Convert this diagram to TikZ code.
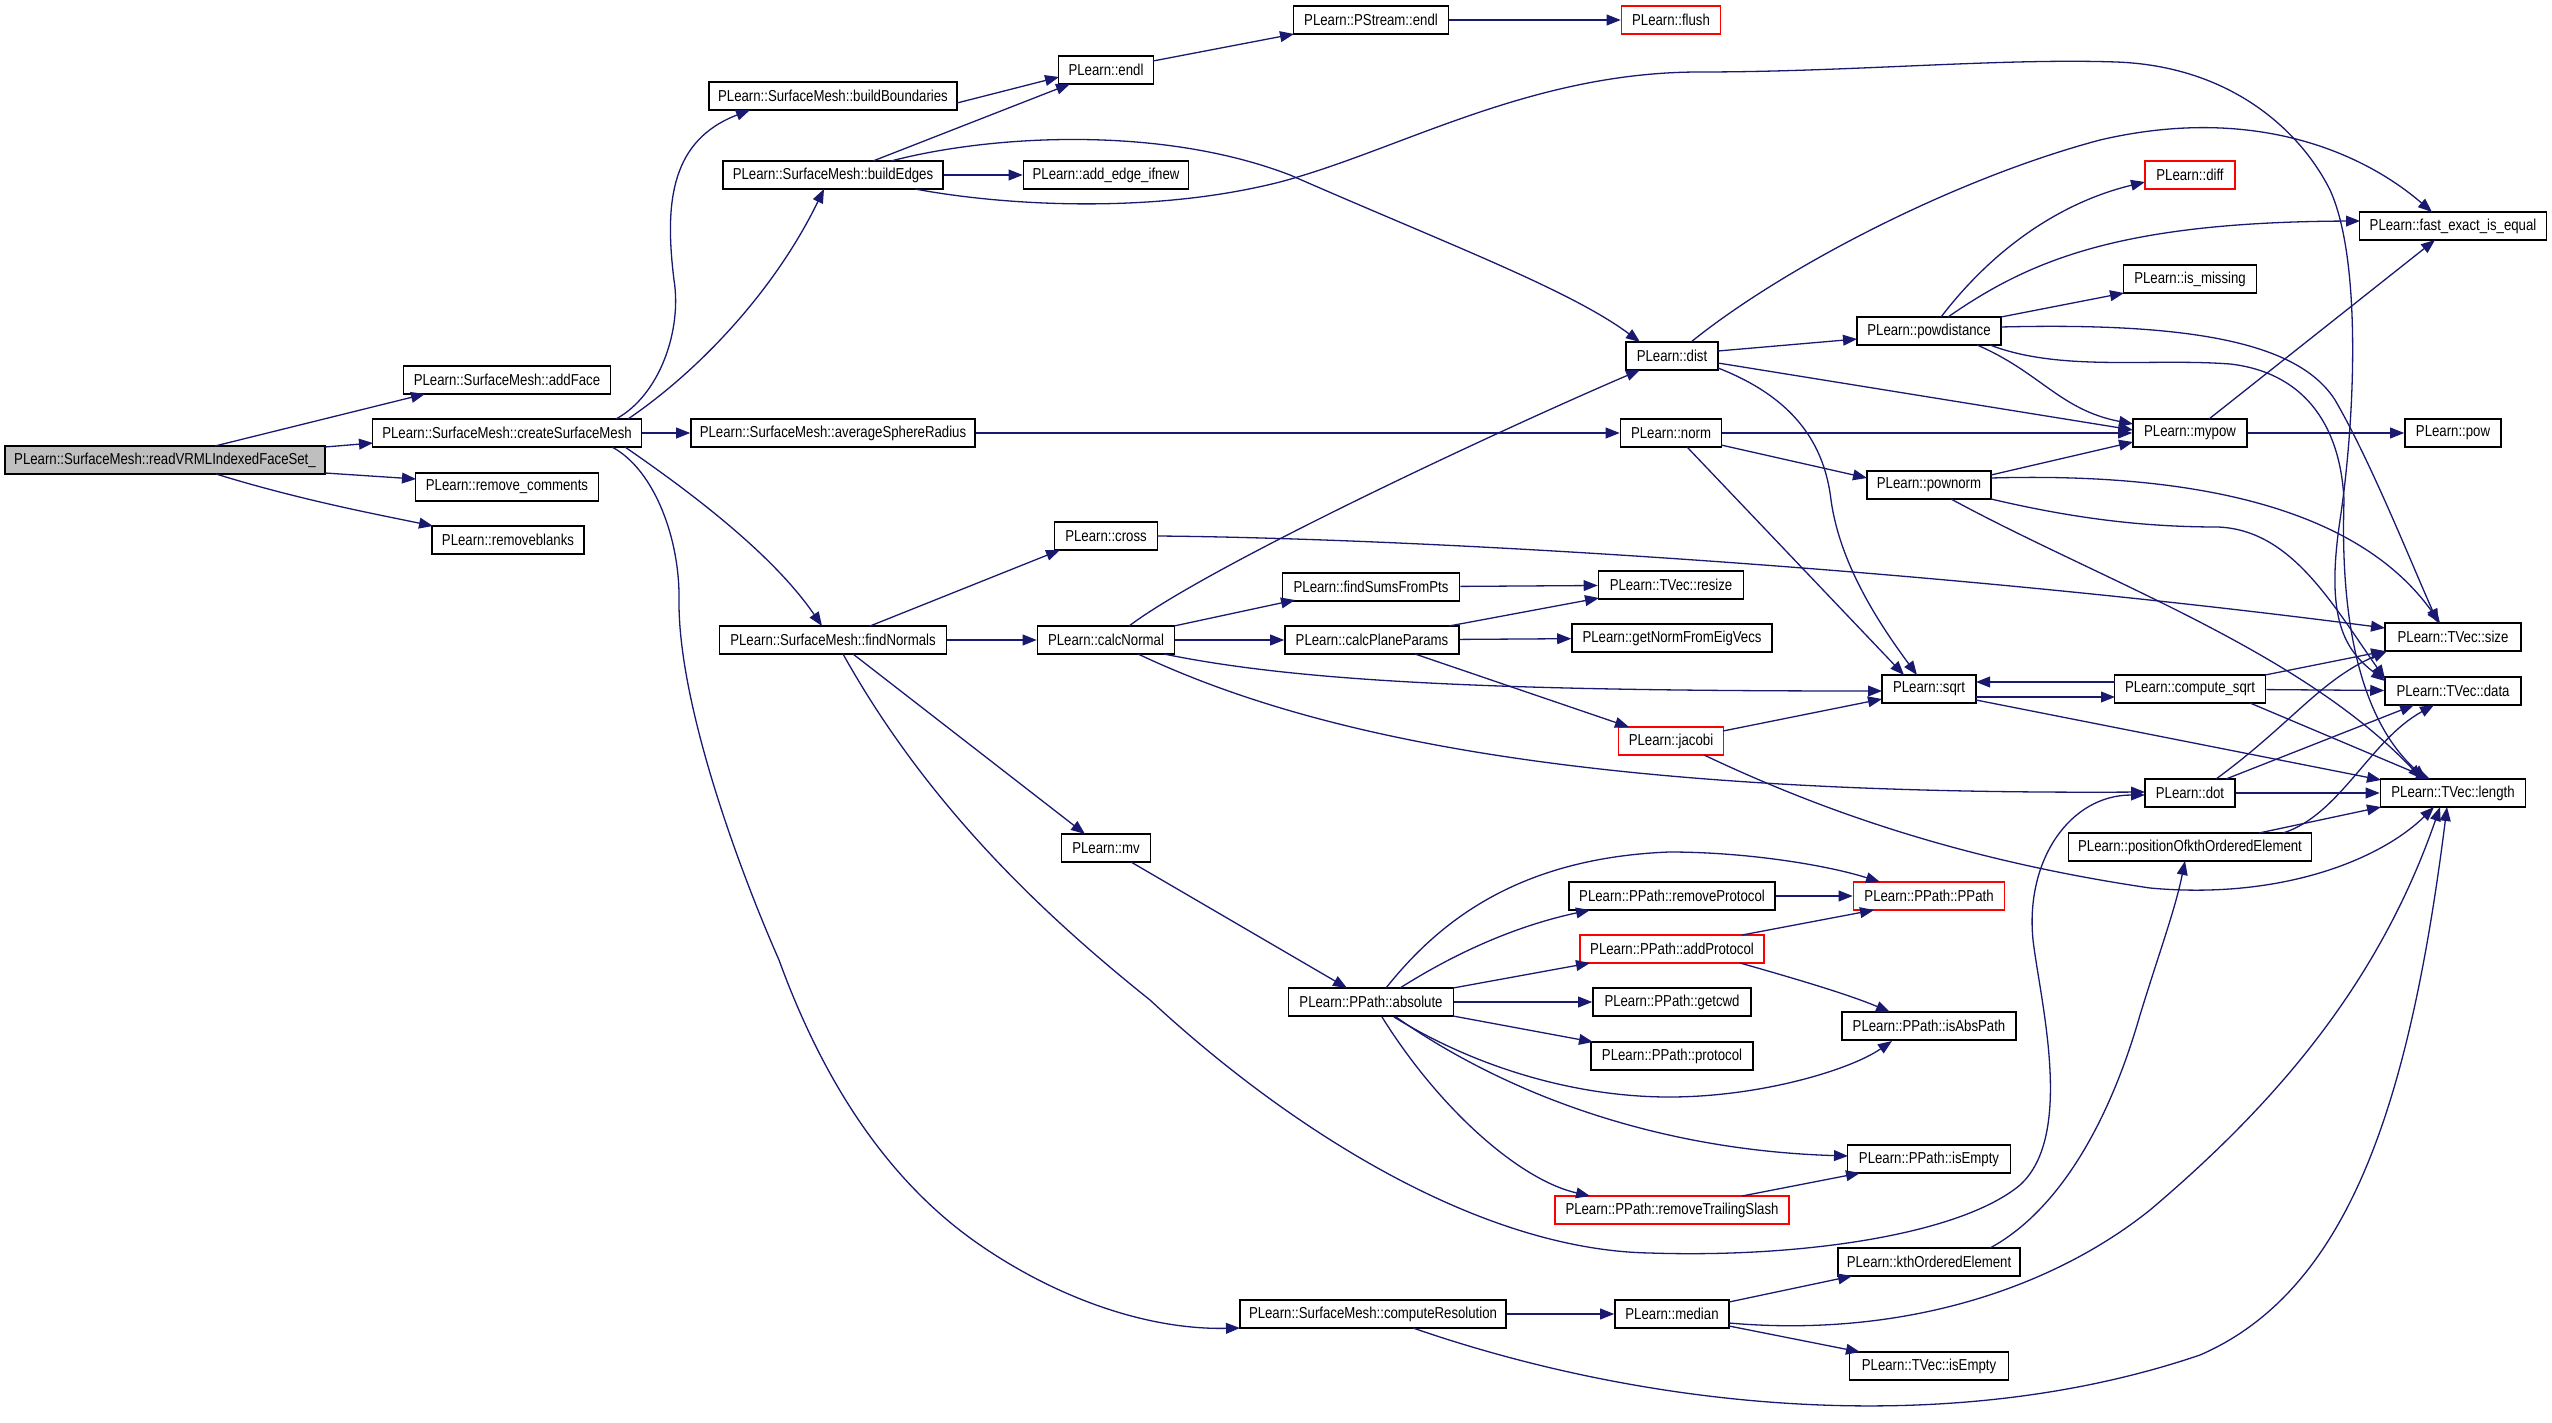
\documentclass[tikz,border=0pt]{standalone}
\usepackage{fontspec}
\usepackage{graphicx}
\setmainfont{Liberation Sans}
\usetikzlibrary{arrows.meta,calc}
\definecolor{edgec}{HTML}{191970}
\definecolor{rootfill}{HTML}{BFBFBF}
\newcommand\nlab[1]{\scalebox{1}[1.2]{#1}}
\begin{document}
\begin{tikzpicture}[x=0.5pt,y=-0.5pt,
  box/.style={draw=black, line width=0.8pt, fill=white, rectangle, inner sep=0pt, minimum height=14pt, font=\fontsize{6.6}{8}\selectfont},
  redbox/.style={box, draw=red},
  bw/.style={minimum width=#1*0.5pt},
  conn/.style={draw=edgec, line width=0.65pt, -{Triangle[length=7pt,width=5.4pt]}}]
\useasboundingbox (0,0) rectangle (2552,1423);
\fill[white] (0,0) rectangle (2552,1423);
% nodes
\node[box,bw=320,fill=rootfill] (rv) at (165,460) {\nlab{PLearn::SurfaceMesh::readVRMLIndexedFaceSet\_}};
\node[box,bw=207] (addface) at (507,380) {\nlab{PLearn::SurfaceMesh::addFace}};
\node[box,bw=269] (cse) at (507,433) {\nlab{PLearn::SurfaceMesh::createSurfaceMesh}};
\node[box,bw=183] (remc) at (507,487) {\nlab{PLearn::remove\_comments}};
\node[box,bw=152] (remb) at (508,540) {\nlab{PLearn::removeblanks}};
\node[box,bw=248] (bb) at (833,96) {\nlab{PLearn::SurfaceMesh::buildBoundaries}};
\node[box,bw=220] (be) at (833,175) {\nlab{PLearn::SurfaceMesh::buildEdges}};
\node[box,bw=284] (asr) at (833,433) {\nlab{PLearn::SurfaceMesh::averageSphereRadius}};
\node[box,bw=227] (fn) at (833,640) {\nlab{PLearn::SurfaceMesh::findNormals}};
\node[box,bw=266] (cr) at (1373,1314) {\nlab{PLearn::SurfaceMesh::computeResolution}};
\node[box,bw=95] (endl) at (1106,70) {\nlab{PLearn::endl}};
\node[box,bw=165] (aei) at (1106,175) {\nlab{PLearn::add\_edge\_ifnew}};
\node[box,bw=103] (cross) at (1106,536) {\nlab{PLearn::cross}};
\node[box,bw=137] (cn) at (1106,640) {\nlab{PLearn::calcNormal}};
\node[box,bw=89] (mv) at (1106,848) {\nlab{PLearn::mv}};
\node[box,bw=155] (pse) at (1371,20) {\nlab{PLearn::PStream::endl}};
\node[box,bw=177] (fsp) at (1371,587) {\nlab{PLearn::findSumsFromPts}};
\node[box,bw=174] (cpp) at (1372,640) {\nlab{PLearn::calcPlaneParams}};
\node[box,bw=165] (abs) at (1371,1002) {\nlab{PLearn::PPath::absolute}};
\node[redbox,bw=99] (flush) at (1671,20) {\nlab{PLearn::flush}};
\node[box,bw=92] (dist) at (1672,356) {\nlab{PLearn::dist}};
\node[box,bw=101] (norm) at (1671,433) {\nlab{PLearn::norm}};
\node[box,bw=145] (resize) at (1671,585) {\nlab{PLearn::TVec::resize}};
\node[box,bw=200] (gnfe) at (1672,638) {\nlab{PLearn::getNormFromEigVecs}};
\node[redbox,bw=105] (jacobi) at (1671,741) {\nlab{PLearn::jacobi}};
\node[box,bw=206] (rmp) at (1672,896) {\nlab{PLearn::PPath::removeProtocol}};
\node[redbox,bw=184] (addp) at (1672,949) {\nlab{PLearn::PPath::addProtocol}};
\node[box,bw=158] (getcwd) at (1672,1002) {\nlab{PLearn::PPath::getcwd}};
\node[box,bw=162] (protocol) at (1672,1056) {\nlab{PLearn::PPath::protocol}};
\node[redbox,bw=234] (rts) at (1672,1210) {\nlab{PLearn::PPath::removeTrailingSlash}};
\node[box,bw=114] (median) at (1672,1314) {\nlab{PLearn::median}};
\node[box,bw=144] (powd) at (1929,331) {\nlab{PLearn::powdistance}};
\node[box,bw=124] (pown) at (1929,485) {\nlab{PLearn::pownorm}};
\node[box,bw=94] (sqrt) at (1929,689) {\nlab{PLearn::sqrt}};
\node[redbox,bw=151] (ppath) at (1929,896) {\nlab{PLearn::PPath::PPath}};
\node[box,bw=174] (isabs) at (1929,1026) {\nlab{PLearn::PPath::isAbsPath}};
\node[box,bw=163] (pisempty) at (1929,1159) {\nlab{PLearn::PPath::isEmpty}};
\node[box,bw=182] (kth) at (1929,1262) {\nlab{PLearn::kthOrderedElement}};
\node[box,bw=159] (tisempty) at (1929,1366) {\nlab{PLearn::TVec::isEmpty}};
\node[redbox,bw=90] (diff) at (2190,175) {\nlab{PLearn::diff}};
\node[box,bw=133] (ismiss) at (2190,279) {\nlab{PLearn::is\_missing}};
\node[box,bw=114] (mypow) at (2190,433) {\nlab{PLearn::mypow}};
\node[box,bw=151] (csqrt) at (2190,689) {\nlab{PLearn::compute\_sqrt}};
\node[box,bw=90] (dot) at (2190,793) {\nlab{PLearn::dot}};
\node[box,bw=243] (poskth) at (2190,847) {\nlab{PLearn::positionOfkthOrderedElement}};
\node[box,bw=187] (fei) at (2453,226) {\nlab{PLearn::fast\_exact\_is\_equal}};
\node[box,bw=96] (pow) at (2453,433) {\nlab{PLearn::pow}};
\node[box,bw=136] (size) at (2453,637) {\nlab{PLearn::TVec::size}};
\node[box,bw=136] (data) at (2453,691) {\nlab{PLearn::TVec::data}};
\node[box,bw=145] (length) at (2453,793) {\nlab{PLearn::TVec::length}};
% edges
\draw[conn] ($(rv)+(50,-14)$) -- ($(addface)+(-82,14)$);
\draw[conn] ($(rv)+(160,-13)$) -- ($(cse)+(-134,10)$);
\draw[conn] ($(rv)+(160,13)$) -- ($(remc)+(-91,-8)$);
\draw[conn] ($(rv)+(51,14)$) .. controls (300,500) and (380,515) .. ($(remb)+(-75,-14)$);
\draw[conn] ($(cse)+(109,-14)$) .. controls (660,395) and (682,330) .. (674,280) .. controls (664,200) and (672,140) .. ($(bb)+(-83,14)$);
\draw[conn] ($(cse)+(121,-14)$) .. controls (700,370) and (775,290) .. ($(be)+(-9,14)$);
\draw[conn] (cse) -- (asr);
\draw[conn] ($(cse)+(118,14)$) .. controls (680,485) and (770,550) .. ($(fn)+(-11,-14)$);
\draw[conn] ($(cse)+(105,14)$) .. controls (655,470) and (680,540) .. (679,600) .. controls (678,700) and (735,860) .. (779,960) .. controls (830,1100) and (900,1190) .. (980,1245) .. controls (1060,1300) and (1150,1330) .. ($(cr)+(-133,14)$);
\draw[conn] ($(bb)+(124,7)$) -- ($(endl)+(-47,7)$);
\draw[conn] ($(be)+(40,-14)$) -- ($(endl)+(-36,14)$);
\draw[conn] (be) -- (aei);
\draw[conn] ($(be)+(58,-14)$) .. controls (990,135) and (1160,125) .. (1290,175) .. controls (1450,245) and (1570,290) .. ($(dist)+(-32,-14)$);
\draw[conn] ($(be)+(82,14)$) .. controls (1000,205) and (1150,215) .. (1280,182) .. controls (1400,150) and (1530,72) .. (1700,72) .. controls (1850,72) and (2000,58) .. (2116,62) .. controls (2230,66) and (2300,130) .. (2330,190) .. controls (2362,260) and (2355,420) .. (2340,520) .. controls (2325,620) and (2345,650) .. ($(data)+(-68,-10)$);
\draw[conn] ($(endl)+(47,-9)$) -- ($(pse)+(-77,14)$);
\draw[conn] (pse) -- (flush);
\draw[conn] (asr) -- (norm);
\draw[conn] ($(fn)+(37,-14)$) -- ($(cross)+(-46,14)$);
\draw[conn] (fn) -- (cn);
\draw[conn] ($(fn)+(20,14)$) -- ($(mv)+(-21,-14)$);
\draw[conn] ($(fn)+(10,14)$) .. controls (930,810) and (1050,920) .. (1150,1000) .. controls (1290,1130) and (1480,1250) .. (1650,1253) .. controls (1800,1258) and (1960,1235) .. (2020,1185) .. controls (2075,1135) and (2040,1000) .. (2033,940) .. controls (2025,860) and (2070,795) .. ($(dot)+(-45,2)$);
\draw[conn] ($(cn)+(23,-14)$) .. controls (1210,565) and (1500,430) .. ($(dist)+(-32,14)$);
\draw[conn] ($(cn)+(68,-14)$) -- ($(fsp)+(-76,13)$);
\draw[conn] (cn) -- (cpp);
\draw[conn] ($(cn)+(58,14)$) .. controls (1300,682) and (1500,691) .. ($(sqrt)+(-47,2)$);
\draw[conn] ($(cn)+(32,14)$) .. controls (1320,740) and (1600,795) .. ($(dot)+(-45,-1)$);
\draw[conn] ($(cpp)+(77,-14)$) -- ($(resize)+(-72,13)$);
\draw[conn] (cpp) -- (gnfe);
\draw[conn] ($(cpp)+(43,14)$) -- ($(jacobi)+(-42,-14)$);
\draw[conn] (fsp) -- (resize);
\draw[conn] ($(cross)+(51,0)$) .. controls (1400,538) and (1900,565) .. ($(size)+(-68,-9)$);
\draw[conn] ($(dist)+(46,-5)$) -- ($(powd)+(-72,8)$);
\draw[conn] ($(dist)+(46,7)$) -- ($(mypow)+(-57,-3)$);
\draw[conn] ($(dist)+(46,12)$) .. controls (1800,400) and (1825,450) .. (1831,500) .. controls (1840,565) and (1880,625) .. ($(sqrt)+(-12,-14)$);
\draw[conn] ($(dist)+(19,-14)$) .. controls (1780,270) and (1950,180) .. (2100,140) .. controls (2250,105) and (2360,150) .. ($(fei)+(-21,-14)$);
\draw[conn] (norm) -- (mypow);
\draw[conn] ($(norm)+(50,12)$) -- ($(pown)+(-62,-7)$);
\draw[conn] ($(norm)+(16,14)$) -- ($(sqrt)+(-25,-14)$);
\draw[conn] ($(powd)+(12,-14)$) .. controls (2000,240) and (2070,200) .. ($(diff)+(-45,7)$);
\draw[conn] ($(powd)+(19,-14)$) .. controls (2030,260) and (2120,222) .. ($(fei)+(-93,-5)$);
\draw[conn] ($(powd)+(72,-14)$) -- ($(ismiss)+(-66,14)$);
\draw[conn] ($(powd)+(72,-4)$) .. controls (2200,322) and (2300,345) .. (2335,400) .. controls (2370,460) and (2410,560) .. ($(size)+(-15,-14)$);
\draw[conn] ($(powd)+(48,14)$) .. controls (2040,372) and (2060,410) .. ($(mypow)+(-57,-9)$);
\draw[conn] ($(powd)+(61,14)$) .. controls (2060,372) and (2150,358) .. (2230,364) .. controls (2300,372) and (2340,420) .. (2344,500) .. controls (2340,620) and (2360,720) .. ($(length)+(-27,-14)$);
\draw[conn] ($(pown)+(62,-10)$) -- ($(mypow)+(-57,9)$);
\draw[conn] ($(pown)+(62,-7)$) .. controls (2200,472) and (2360,510) .. ($(size)+(-13,-14)$);
\draw[conn] ($(pown)+(62,14)$) .. controls (2080,520) and (2150,527) .. (2218,527) .. controls (2290,530) and (2330,600) .. ($(data)+(-68,-12)$);
\draw[conn] ($(pown)+(22,14)$) .. controls (2100,580) and (2300,650) .. ($(length)+(-31,-14)$);
\draw[conn] ($(sqrt)+(47,8)$) -- ($(csqrt)+(-75,8)$);
\draw[conn] ($(csqrt)+(-75,-7)$) -- ($(sqrt)+(47,-7)$);
\draw[conn] ($(sqrt)+(47,11)$) -- ($(length)+(-72,-13)$);
\draw[conn] ($(csqrt)+(75,-14)$) -- ($(size)+(-68,14)$);
\draw[conn] (csqrt) -- (data);
\draw[conn] ($(csqrt)+(60,14)$) -- ($(length)+(-23,-14)$);
\draw[conn] ($(dot)+(26,-14)$) .. controls (2290,725) and (2320,680) .. ($(size)+(-66,14)$);
\draw[conn] ($(dot)+(36,-14)$) -- ($(data)+(-39,14)$);
\draw[conn] (dot) -- (length);
\draw[conn] ($(poskth)+(69,-14)$) -- ($(length)+(-72,14)$);
\draw[conn] ($(poskth)+(93,-14)$) .. controls (2340,815) and (2370,740) .. ($(data)+(-19,14)$);
\draw[conn] ($(jacobi)+(52,-10)$) -- ($(sqrt)+(-47,10)$);
\draw[conn] ($(jacobi)+(33,14)$) .. controls (1820,810) and (1960,860) .. (2150,888) .. controls (2280,900) and (2380,860) .. ($(length)+(-19,14)$);
\draw[conn] ($(mypow)+(19,-14)$) -- ($(fei)+(-18,14)$);
\draw[conn] (mypow) -- (pow);
\draw[conn] ($(mv)+(25,14)$) -- ($(abs)+(-24,-14)$);
\draw[conn] ($(abs)+(15,-14)$) .. controls (1440,920) and (1520,858) .. (1669,852) .. controls (1750,852) and (1830,866) .. ($(ppath)+(-49,-14)$);
\draw[conn] ($(abs)+(29,-14)$) .. controls (1460,950) and (1520,925) .. ($(rmp)+(-82,14)$);
\draw[conn] ($(abs)+(82,-14)$) -- ($(addp)+(-82,14)$);
\draw[conn] (abs) -- (getcwd);
\draw[conn] ($(abs)+(82,14)$) -- ($(protocol)+(-79,-14)$);
\draw[conn] ($(abs)+(23,15)$) .. controls (1480,1070) and (1580,1097) .. (1669,1097) .. controls (1760,1097) and (1850,1070) .. ($(isabs)+(-37,15)$);
\draw[conn] ($(abs)+(25,15)$) .. controls (1500,1090) and (1650,1150) .. ($(pisempty)+(-81,-3)$);
\draw[conn] ($(abs)+(11,15)$) .. controls (1440,1110) and (1520,1180) .. ($(rts)+(-82,-14)$);
\draw[conn] (rmp) -- (ppath);
\draw[conn] ($(addp)+(70,-14)$) -- ($(ppath)+(-55,14)$);
\draw[conn] ($(addp)+(68,14)$) .. controls (1800,980) and (1850,995) .. ($(isabs)+(-39,-14)$);
\draw[conn] ($(rts)+(70,-14)$) -- ($(pisempty)+(-69,14)$);
\draw[conn] (cr) -- (median);
\draw[conn] ($(cr)+(40,14)$) .. controls (1650,1410) and (1950,1440) .. (2200,1355) .. controls (2350,1290) and (2410,1100) .. ($(length)+(-6,14)$);
\draw[conn] ($(median)+(57,-12)$) -- ($(kth)+(-77,14)$);
\draw[conn] ($(median)+(57,12)$) -- ($(tisempty)+(-69,-14)$);
\draw[conn] ($(median)+(57,9)$) .. controls (1900,1338) and (2050,1290) .. (2150,1210) .. controls (2280,1100) and (2380,980) .. ($(length)+(-13,14)$);
\draw[conn] ($(kth)+(61,-14)$) .. controls (2060,1210) and (2110,1120) .. (2140,1015) .. controls (2160,950) and (2175,910) .. ($(poskth)+(-5,14)$);
\end{tikzpicture}
\end{document}
